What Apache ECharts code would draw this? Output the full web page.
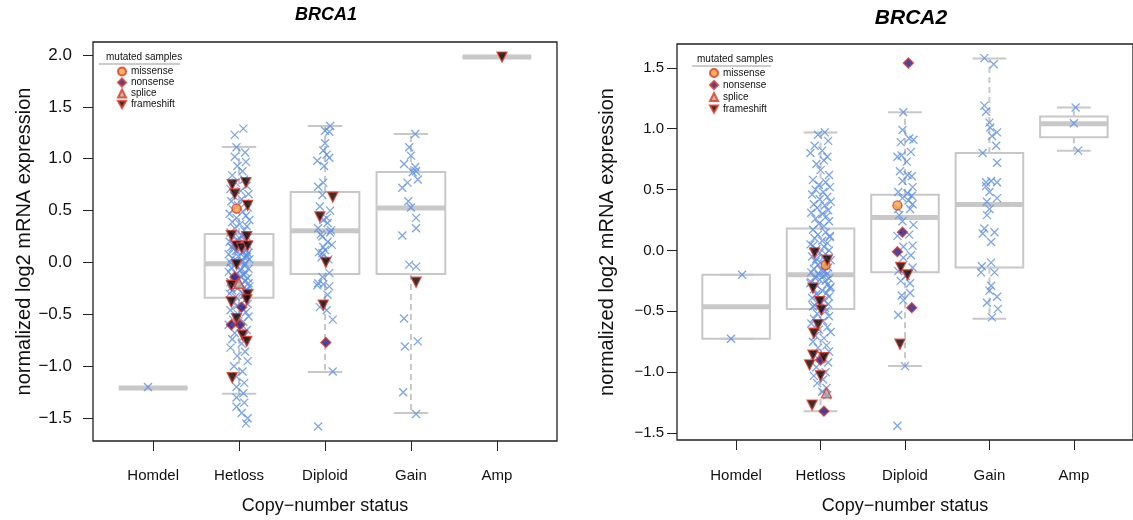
<!DOCTYPE html>
<html>
<head>
<meta charset="utf-8">
<script src="https://cdn.jsdelivr.net/npm/echarts@6/dist/echarts.min.js"></script>
<style>
  html, body { margin: 0; padding: 0; background: #fff; }
  #main { width: 1133px; height: 520px; }
</style>
</head>
<body>
<div id="main"></div>
<script>
var categories = ['Homdel', 'Hetloss', 'Diploid', 'Gain', 'Amp'];
var tickValues = [1, 2, 3, 4, 5];
var yTicks1 = [-1.5, -1.0, -0.5, 0.0, 0.5, 1.0, 1.5, 2.0];
var yTicks2 = [-1.5, -1.0, -0.5, 0.0, 0.5, 1.0, 1.5];

// box stats per category: [lower whisker, Q1, median, Q3, upper whisker]
var brca1Box = [
    [-1.21, -1.21, -1.21, -1.21, -1.21],
    [-1.265, -0.34, -0.013, 0.274, 1.113],
    [-1.054, -0.11, 0.305, 0.68, 1.315],
    [-1.45, -0.11, 0.526, 0.873, 1.238],
    [1.98, 1.98, 1.98, 1.98, 1.98]
];
var brca2Box = [
    [-0.725, -0.725, -0.4625, -0.20, -0.20],
    [-1.32, -0.48, -0.20, 0.181, 0.97],
    [-0.95, -0.178, 0.27, 0.458, 1.135],
    [-0.56, -0.14, 0.377, 0.80, 1.576],
    [0.82, 0.93, 1.04, 1.10, 1.175]
];

// samples (blue crosses): [jitter, log2 expression]
var brca1Homdel = [[-0.06, -1.20]];
var brca1Hetloss = [
    [0.05, 1.29], [-0.05, 1.23], [-0.03, 1.11], [0.07, 1.06], [-0.05, 1.02], [0.08, 0.97], [-0.02, 0.93], [0.04, 0.88],
    [-0.08, 0.84], [0.06, 0.80], [-0.04, 0.77], [0.09, 0.74], [-0.10, 0.71], [0.02, 0.69], [0.11, 0.66], [-0.06, 0.64],
    [0.03, 0.61], [-0.09, 0.59], [0.07, 0.57], [-0.01, 0.55], [0.10, 0.53], [-0.07, 0.51], [0.04, 0.49], [-0.11, 0.47],
    [0.08, 0.45], [-0.03, 0.43], [0.12, 0.41], [-0.08, 0.39], [0.01, 0.37], [0.09, 0.35], [-0.05, 0.33], [0.06, 0.31],
    [-0.10, 0.29], [0.03, 0.26], [-0.07, 0.25], [0.10, 0.24], [-0.02, 0.22], [0.07, 0.21], [-0.11, 0.20], [0.04, 0.19],
    [-0.05, 0.17], [0.11, 0.16], [-0.09, 0.15], [0.02, 0.13], [0.08, 0.12], [-0.04, 0.11], [0.05, 0.10], [-0.12, 0.08],
    [0.09, 0.07], [-0.01, 0.06], [0.06, 0.05], [-0.08, 0.04], [0.12, 0.03], [-0.03, 0.02], [0.03, 0.01], [-0.10, 0.00],
    [0.07, -0.01], [-0.06, 0.18], [0.10, 0.09], [-0.07, 0.14], [0.01, 0.23], [0.09, 0.05], [-0.02, 0.11],
    [-0.04, -0.02], [0.06, -0.03], [-0.09, -0.05], [0.11, -0.06], [0.02, -0.07], [-0.12, -0.09], [0.08, -0.10], [-0.03, -0.11],
    [0.05, -0.12], [-0.07, -0.14], [0.10, -0.15], [-0.01, -0.17], [0.07, -0.18], [-0.10, -0.19], [0.03, -0.21], [-0.06, -0.22],
    [0.12, -0.23], [-0.02, -0.25], [0.09, -0.26], [-0.08, -0.27], [0.04, -0.29], [-0.11, -0.30], [0.06, -0.31], [-0.04, -0.33],
    [0.01, -0.08], [-0.05, -0.16], [0.11, -0.20], [-0.09, -0.24], [0.08, -0.28], [0.02, -0.13],
    [0.07, -0.36], [-0.06, -0.38], [0.10, -0.40], [-0.03, -0.42], [0.04, -0.44], [-0.10, -0.46], [0.08, -0.48], [-0.01, -0.50],
    [0.11, -0.52], [-0.07, -0.55], [0.05, -0.57], [-0.12, -0.60], [0.02, -0.62], [0.09, -0.65], [-0.05, -0.68], [0.06, -0.71],
    [-0.08, -0.74], [0.03, -0.78], [-0.10, -0.82], [0.07, -0.86], [-0.02, -0.90], [0.10, -0.95], [-0.06, -1.00], [0.04, -1.05],
    [-0.03, -1.10], [0.06, -1.16], [-0.03, -1.20], [0.05, -1.26], [-0.03, -1.30], [0.06, -1.35], [-0.03, -1.39], [0.03, -1.45],
    [0.10, -1.50], [0.08, -1.55]
];
var brca1Diploid = [
    [0.06, 1.315], [0.00, 1.27], [0.05, 1.26], [0.00, 1.15], [-0.02, 1.08], [0.02, 1.04], [-0.09, 0.98], [0.05, 1.01],
    [-0.01, 0.93], [-0.02, 0.77], [-0.08, 0.73], [-0.03, 0.65], [-0.06, 0.54], [0.06, 0.50], [0.02, 0.43], [-0.02, 0.41],
    [0.03, 0.38], [-0.08, 0.33], [0.06, 0.29], [-0.03, 0.25], [0.03, 0.20], [-0.02, 0.15], [-0.03, 0.09], [0.00, 0.12],
    [0.07, 0.31], [-0.05, 0.27], [0.04, 0.03], [-0.04, 0.05], [0.08, 0.17], [-0.07, 0.10],
    [0.05, -0.10], [-0.03, -0.14], [-0.08, -0.20], [-0.02, -0.21], [0.05, -0.23], [-0.09, -0.22], [0.03, -0.31], [-0.06, -0.43],
    [0.02, -0.46], [0.09, -0.55], [0.09, -1.05], [-0.08, -1.58]
];
var brca1Gain = [
    [0.05, 1.238], [-0.02, 1.11], [0.00, 1.03], [-0.08, 0.95], [0.05, 0.92], [0.06, 0.88], [0.02, 0.87], [0.08, 0.80],
    [-0.04, 0.77], [-0.10, 0.72], [-0.03, 0.59], [0.00, 0.53], [0.06, 0.43], [0.06, 0.33], [-0.10, 0.26], [-0.02, -0.02],
    [0.06, -0.04], [-0.08, -0.54], [-0.07, -0.81], [0.08, -0.76], [-0.09, -1.25], [0.06, -1.46]
];
var brca1Amp = [];

var brca2Homdel = [[0.07, -0.20], [-0.06, -0.725]];
var brca2Hetloss = [
    [0.05, 0.97], [-0.03, 0.95], [0.09, 0.90], [-0.07, 0.86], [0.02, 0.82], [-0.12, 0.80], [0.08, 0.77], [0.04, 0.74],
    [-0.05, 0.71], [0.00, 0.66], [0.10, 0.62], [-0.09, 0.58], [0.06, 0.56], [-0.02, 0.54], [0.11, 0.52], [-0.06, 0.50],
    [0.03, 0.48], [-0.10, 0.46], [0.08, 0.44], [-0.01, 0.42], [0.12, 0.40], [-0.08, 0.38], [0.05, 0.37], [-0.04, 0.35],
    [0.09, 0.33], [-0.11, 0.31], [0.02, 0.30], [0.07, 0.28], [-0.06, 0.26], [0.10, 0.24], [-0.02, 0.22], [0.04, 0.20],
    [-0.09, 0.17], [0.06, 0.15], [-0.03, 0.13], [0.11, 0.11], [-0.07, 0.10], [0.02, 0.08], [0.08, 0.06], [-0.12, 0.05],
    [0.04, 0.03], [-0.05, 0.01], [0.10, 0.00], [-0.01, -0.02], [0.06, -0.03], [-0.10, -0.05], [0.03, -0.06], [0.12, -0.08],
    [-0.06, -0.09], [0.07, -0.11], [-0.03, -0.12], [0.09, -0.14], [-0.08, -0.15], [0.01, -0.16], [0.05, -0.17], [-0.11, -0.18],
    [0.08, -0.19], [-0.02, -0.20], [0.11, 0.12], [-0.05, -0.07], [0.04, -0.13], [-0.09, 0.04],
    [0.03, -0.21], [-0.07, -0.22], [0.10, -0.23], [-0.01, -0.24], [0.06, -0.25], [-0.11, -0.26], [0.08, -0.28], [-0.04, -0.29],
    [0.12, -0.30], [-0.08, -0.32], [0.02, -0.33], [0.07, -0.35], [-0.05, -0.36], [0.10, -0.38], [-0.10, -0.39], [0.04, -0.41],
    [-0.02, -0.42], [0.09, -0.44], [-0.07, -0.45], [0.05, -0.47], [-0.12, -0.27], [0.11, -0.31], [-0.03, -0.37], [0.01, -0.43],
    [-0.09, -0.46], [0.06, -0.50], [-0.04, -0.52], [0.10, -0.54], [-0.08, -0.56], [0.03, -0.58], [-0.11, -0.60], [0.08, -0.63],
    [-0.02, -0.65], [0.12, -0.67], [-0.06, -0.70], [0.04, -0.72], [-0.09, -0.75], [0.07, -0.78], [-0.03, -0.80], [0.10, -0.83],
    [-0.07, -0.86], [0.02, -0.89], [0.09, -0.92], [-0.05, -0.96], [0.06, -1.00], [-0.08, -1.03], [0.03, -1.06], [-0.04, -1.09],
    [0.07, -1.13], [0.02, -1.16], [0.08, -1.19]
];
var brca2Diploid = [
    [-0.02, 1.135], [-0.03, 0.99], [-0.05, 0.89], [0.05, 0.92], [0.10, 0.91], [0.07, 0.81], [-0.09, 0.77], [-0.04, 0.78],
    [0.02, 0.73], [-0.06, 0.65], [0.03, 0.62], [0.08, 0.61], [-0.03, 0.57], [0.09, 0.52], [-0.08, 0.48], [0.03, 0.47],
    [0.08, 0.45], [-0.03, 0.43], [0.04, 0.41], [0.09, 0.38], [-0.08, 0.34], [0.06, 0.34], [-0.07, 0.29], [-0.03, 0.24],
    [0.10, 0.21], [-0.09, 0.12], [0.05, 0.13], [0.09, 0.04], [-0.02, 0.03], [0.07, -0.04], [-0.02, -0.06], [0.09, -0.14],
    [-0.08, -0.17], [0.01, -0.21], [-0.05, -0.25], [0.06, -0.27], [-0.04, -0.37], [-0.02, -0.41], [0.06, -0.35], [-0.08, -0.53],
    [0.00, -0.95], [-0.09, -1.44]
];
var brca2Gain = [
    [-0.06, 1.58], [0.05, 1.53], [-0.06, 1.19], [-0.04, 1.14], [0.00, 1.05], [0.01, 1.01], [0.09, 0.97], [0.03, 0.94],
    [0.08, 0.86], [-0.08, 0.80], [0.09, 0.72], [-0.04, 0.56], [0.02, 0.57], [0.09, 0.56], [-0.04, 0.53], [0.00, 0.48],
    [0.09, 0.43], [-0.03, 0.40], [0.00, 0.34], [-0.03, 0.29], [-0.06, 0.18], [-0.08, 0.14], [0.06, 0.15], [0.02, 0.07],
    [-0.09, -0.13], [0.02, -0.10], [-0.10, -0.18], [0.06, -0.18], [0.02, -0.29], [0.00, -0.33], [0.09, -0.38], [-0.03, -0.43],
    [0.10, -0.48], [0.03, -0.55]
];
var brca2Amp = [[0.02, 1.175], [0.00, 1.045], [0.05, 0.82]];

// mutated samples: [category, jitter, log2 expression]
var brca1Missense = [[2, -0.03, 0.52]];
var brca1Nonsense = [[2, -0.05, -0.14], [2, 0.03, -0.43], [2, -0.09, -0.60], [2, 0.01, -0.60], [3, 0.01, -0.77]];
var brca1Splice = [[2, 0.00, -0.20]];
var brca1Frameshift = [
    [2, -0.08, 0.75], [2, 0.08, 0.77], [2, -0.05, 0.66], [2, 0.10, 0.55], [2, 0.09, 0.25], [2, -0.09, 0.26],
    [2, -0.03, 0.16], [2, 0.03, 0.14], [2, 0.10, 0.16], [2, -0.03, -0.02], [2, -0.09, -0.22], [2, 0.10, -0.31],
    [2, -0.09, -0.38], [2, 0.09, -0.36], [2, -0.03, -0.54], [2, 0.04, -0.70], [2, 0.09, -0.76], [2, -0.08, -1.11],
    [3, 0.09, 0.63], [3, -0.06, 0.44], [3, 0.01, 0.00], [3, -0.02, -0.41], [4, 0.06, -0.19], [5, 0.06, 1.98]
];
var brca2Missense = [[2, 0.06, -0.12], [3, -0.09, 0.37]];
var brca2Nonsense = [[2, 0.04, -1.32], [2, 0.00, -0.90], [3, 0.04, 1.54], [3, -0.03, 0.15], [3, -0.09, -0.01], [3, 0.08, -0.47]];
var brca2Splice = [[2, 0.07, -1.17]];
var brca2Frameshift = [
    [2, -0.07, -0.02], [2, 0.08, -0.08], [2, -0.09, -0.31], [2, -0.01, -0.42], [2, 0.01, -0.49], [2, -0.03, -0.61],
    [2, -0.08, -0.68], [2, -0.09, -0.86], [2, 0.04, -0.88], [2, -0.13, -0.94], [2, 0.00, -1.03], [2, -0.10, -1.27],
    [3, -0.05, -0.14], [3, 0.03, -0.20], [3, -0.06, -0.77]
];

var FONT = 'Liberation Sans, Arial, Helvetica, sans-serif';
var boxColor = '#c8c8c8';
var blue = '#5b8ee6';
var red = '#e8321e';
var crossPath = 'path://M0,0L10,10M0,10L10,0';
var downTriangle = 'path://M0,0L10,0L5,9Z';

function placeSamples(lists) {
    var out = [];
    lists.forEach(function (pts, i) {
        pts.forEach(function (p) {
            out.push([i + 1 + p[0], p[1]]);
        });
    });
    return out;
}

function placeMutations(rows) {
    return rows.map(function (r) { return [r[0] + r[1], r[2]]; });
}

function boxRows(stats) {
    return stats.map(function (s, i) { return [i + 1].concat(s); });
}

function renderBox(params, api) {
    var c = api.value(0);
    var lo = api.coord([c, api.value(1)]);
    var q1 = api.coord([c, api.value(2)]);
    var md = api.coord([c, api.value(3)]);
    var q3 = api.coord([c, api.value(4)]);
    var hi = api.coord([c, api.value(5)]);
    var left = api.coord([c - 0.4, 0])[0];
    var right = api.coord([c + 0.4, 0])[0];
    var capL = api.coord([c - 0.2, 0])[0];
    var capR = api.coord([c + 0.2, 0])[0];
    var x = md[0];
    var solid = {stroke: boxColor, lineWidth: 2};
    var dashed = {stroke: boxColor, lineWidth: 2, lineDash: [6, 4]};
    return {
        type: 'group',
        children: [
            {type: 'line', shape: {x1: x, y1: q3[1], x2: x, y2: hi[1]}, style: dashed},
            {type: 'line', shape: {x1: x, y1: q1[1], x2: x, y2: lo[1]}, style: dashed},
            {type: 'line', shape: {x1: capL, y1: hi[1], x2: capR, y2: hi[1]}, style: solid},
            {type: 'line', shape: {x1: capL, y1: lo[1], x2: capR, y2: lo[1]}, style: solid},
            {type: 'rect', shape: {x: left, y: q3[1], width: right - left, height: q1[1] - q3[1]},
                style: {stroke: boxColor, lineWidth: 2, fill: 'none'}},
            {type: 'line', shape: {x1: left, y1: md[1], x2: right, y2: md[1]}, style: {stroke: boxColor, lineWidth: 5}}
        ]
    };
}

function fmtY(v) {
    return (v < 0 ? '\u2212' : '') + Math.abs(v).toFixed(1);
}

function makeX(gi, labelMargin, nameGap) {
    return {
        type: 'value', gridIndex: gi, min: 0.3, max: 5.7, position: 'bottom',
        axisLine: {show: false, onZero: false},
        splitLine: {show: false},
        axisTick: {show: true, inside: false, length: 10, customValues: tickValues, lineStyle: {color: '#222', width: 1}},
        axisLabel: {
            customValues: tickValues, margin: labelMargin, fontSize: 15, color: '#111', fontFamily: FONT,
            formatter: function (v) { return categories[Math.round(v) - 1]; }
        },
        name: 'Copy\u2212number status', nameLocation: 'middle', nameGap: nameGap,
        nameTextStyle: {fontSize: 18, color: '#111', fontFamily: FONT}
    };
}

function makeY(gi, min, max, ticks, labelSize, labelMargin, nameSize, nameGap) {
    return {
        type: 'value', gridIndex: gi, min: min, max: max, position: 'left',
        axisLine: {show: false, onZero: false},
        splitLine: {show: false},
        axisTick: {show: true, inside: false, length: 10, customValues: ticks, lineStyle: {color: '#222', width: 1}},
        axisLabel: {customValues: ticks, margin: labelMargin, fontSize: labelSize, color: '#111', fontFamily: FONT, formatter: fmtY},
        name: 'normalized log2 mRNA expression', nameLocation: 'middle', nameGap: nameGap,
        nameTextStyle: {fontSize: nameSize, color: '#111', fontFamily: FONT}
    };
}

function panelSeries(gi, box, samples, mis, non, spl, fra) {
    return [
        {type: 'custom', xAxisIndex: gi, yAxisIndex: gi, z: 1, silent: true,
            encode: {x: 0, y: [1, 2, 3, 4, 5]}, data: boxRows(box), renderItem: renderBox},
        {type: 'scatter', name: 'samples', xAxisIndex: gi, yAxisIndex: gi, z: 2, silent: true,
            symbol: crossPath, symbolSize: 8,
            itemStyle: {color: blue, borderColor: blue, borderWidth: 1.3},
            data: placeSamples(samples)},
        {type: 'scatter', name: 'missense', xAxisIndex: gi, yAxisIndex: gi, z: 3, silent: true,
            symbol: 'circle', symbolSize: 9,
            itemStyle: {color: '#f3a23c', borderColor: red, borderWidth: 1.3},
            data: placeMutations(mis)},
        {type: 'scatter', name: 'nonsense', xAxisIndex: gi, yAxisIndex: gi, z: 3, silent: true,
            symbol: 'diamond', symbolSize: 10,
            itemStyle: {color: '#1a1a8a', borderColor: red, borderWidth: 1.3},
            data: placeMutations(non)},
        {type: 'scatter', name: 'splice', xAxisIndex: gi, yAxisIndex: gi, z: 3, silent: true,
            symbol: 'triangle', symbolSize: 10,
            itemStyle: {color: '#a8a8a8', borderColor: red, borderWidth: 1.3},
            data: placeMutations(spl)},
        {type: 'scatter', name: 'frameshift', xAxisIndex: gi, yAxisIndex: gi, z: 3, silent: true,
            symbol: downTriangle, symbolSize: 10,
            itemStyle: {color: '#000', borderColor: red, borderWidth: 1.3},
            data: placeMutations(fra)}
    ];
}

var legendNames = ['missense', 'nonsense', 'splice', 'frameshift'];

var option = {
    backgroundColor: '#fff',
    animation: false,
    title: [
        {text: 'BRCA1', left: 326, top: 6, textAlign: 'center', padding: 0,
            textStyle: {fontSize: 18, fontStyle: 'italic', fontWeight: 'bold', color: '#000', fontFamily: FONT}},
        {text: 'BRCA2', left: 911, top: 8, textAlign: 'center', padding: 0,
            textStyle: {fontSize: 21, fontStyle: 'italic', fontWeight: 'bold', color: '#000', fontFamily: FONT}}
    ],
    legend: [
        {data: legendNames, orient: 'vertical', left: 117, top: 66, padding: 0, itemGap: 0,
            itemWidth: 8, itemHeight: 8, selectedMode: false,
            textStyle: {fontSize: 10, lineHeight: 11, color: '#111', fontFamily: FONT}},
        {data: legendNames, orient: 'vertical', left: 709, top: 67, padding: 0, itemGap: 0,
            itemWidth: 8, itemHeight: 8, selectedMode: false,
            textStyle: {fontSize: 10, lineHeight: 12, color: '#111', fontFamily: FONT}}
    ],
    graphic: [
        {type: 'text', left: 106, top: 52, style: {text: 'mutated samples', fontSize: 10, fill: '#111', fontFamily: FONT}},
        {type: 'line', shape: {x1: 99, y1: 64, x2: 180, y2: 64}, style: {stroke: '#999', lineWidth: 1}},
        {type: 'text', left: 697, top: 54, style: {text: 'mutated samples', fontSize: 10, fill: '#111', fontFamily: FONT}},
        {type: 'line', shape: {x1: 692, y1: 66, x2: 771, y2: 66}, style: {stroke: '#999', lineWidth: 1}}
    ],
    grid: [
        {left: 93, top: 42, width: 464, height: 399, show: true, borderColor: '#222', borderWidth: 1.3, backgroundColor: 'transparent'},
        {left: 677, top: 44, width: 464, height: 399, show: true, borderColor: '#222', borderWidth: 1.3, backgroundColor: 'transparent'}
    ],
    xAxis: [makeX(0, 27, 56), makeX(1, 28, 57)],
    yAxis: [
        makeY(0, -1.72, 2.125, yTicks1, 17, 21, 20, 58),
        makeY(1, -1.557, 1.696, yTicks2, 15, 13, 20, 60)
    ],
    series: []
        .concat(panelSeries(0, brca1Box, [brca1Homdel, brca1Hetloss, brca1Diploid, brca1Gain, brca1Amp],
            brca1Missense, brca1Nonsense, brca1Splice, brca1Frameshift))
        .concat(panelSeries(1, brca2Box, [brca2Homdel, brca2Hetloss, brca2Diploid, brca2Gain, brca2Amp],
            brca2Missense, brca2Nonsense, brca2Splice, brca2Frameshift))
};

var chart = echarts.init(document.getElementById('main'), null, {renderer: 'canvas'});
chart.setOption(option);
</script>
</body>
</html>
